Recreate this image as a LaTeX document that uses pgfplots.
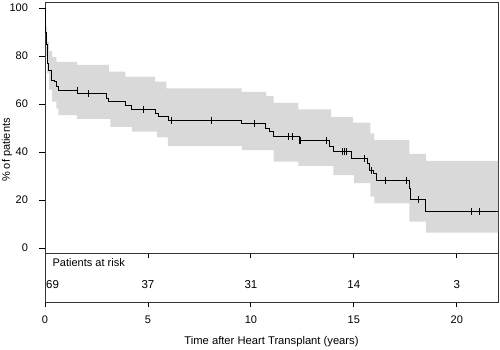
\documentclass[border=0pt]{standalone}
\usepackage{pgfplots}
\pgfplotsset{compat=1.18}
\usepgfplotslibrary{fillbetween}
\usepackage{fontspec}
\setmainfont{Liberation Sans}
\begin{document}
\begin{tikzpicture}
\begin{axis}[
  at={(45pt,97pt)}, anchor=south west, scale only axis,
  width=453pt, height=251pt,
  xmin=0, xmax=22, ymin=-2.08, ymax=102.5,
  ytick={0,20,...,100}, xtick={5,10,15,20}, xticklabels={},
  tick align=outside, xtick pos=bottom, ytick pos=left,
  major tick length=5.5pt,
  axis line style={black!80, line width=0.9pt},
  tick style={black, line width=0.9pt},
  ticklabel style={font=\fontsize{11}{13}\selectfont},
  yticklabel style={xshift=-8pt},
  /pgf/number format/assume math mode=true,
  clip=false,
]
\addplot[name path=upper, const plot, draw=none] coordinates {
(0,97) (0.05,92) (0.1,86) (0.2,82) (0.35,79.5) (0.55,77.6) (1.55,76.3)
(3.1,73.5) (3.9,71.4) (5.35,69.3) (5.9,66.5) (9.55,65.1) (10.75,63.3)
(11.1,60.5) (12.3,57.8) (13.9,54.5) (14.95,52.2) (15.8,47.8) (16.0,45)
(17.7,39.2) (18.5,36.3) (22,36.3)};
\addplot[name path=lower, const plot, draw=none] coordinates {
(0,92) (0.05,80) (0.1,73) (0.2,66) (0.35,61) (0.55,58.2) (0.65,55.4)
(1.55,53.75) (3.17,50.5) (4.22,48.5) (5.44,46.1) (5.97,42.5) (9.56,40.8)
(11.1,36) (12.3,34.2) (14.0,30.4) (15.0,27) (15.8,21.4) (16.0,18.6)
(17.7,11) (18.5,6.4) (22,6.4)};
\addplot[fill=black!15, draw=none] fill between[of=upper and lower];
\addplot[const plot, black, line width=0.9pt] coordinates {
(0,100) (0.01,95) (0.03,90) (0.06,85) (0.1,81) (0.14,77) (0.18,74)
(0.31,70) (0.47,69.3) (0.58,67.2) (0.66,65.5) (1.6,64.2) (3.0,62.4)
(3.1,61.25) (3.9,59.6) (4.22,57.9) (5.35,56.1) (5.5,54.7) (6.0,53.3)
(9.53,51.7) (10.7,49.9) (10.9,48.5) (11.1,46.4) (12.35,44.7) (13.8,42.2)
(14.0,40.1) (14.9,37.4) (15.65,35.3) (15.78,32.2) (15.95,31.1) (16.1,28.3)
(17.68,24.9) (17.77,20.3) (18.48,15.1) (22,15.1)};
\addplot[only marks, mark=|, mark size=3.5pt, mark options={line width=0.9pt, black}] coordinates {
(1.58,65.5) (2.12,64.2) (4.76,57.9) (6.12,53.3) (8.1,53.3) (10.16,51.7)
(11.81,46.4) (12.02,46.4) (12.37,44.7) (12.42,44.7) (13.67,44.7)
(14.43,40.1) (14.56,40.1) (14.65,40.1) (15.53,37.4) (15.83,32.2)
(16.54,28.3) (17.56,28.3) (18.16,20.3) (20.71,15.1) (21.12,15.1)};
\node[rotate=90, font=\fontsize{11}{13}\selectfont] at (rel axis cs:-0.084,0.41) {\% of patients};
\end{axis}
\begin{axis}[
  at={(45pt,48pt)}, anchor=south west, scale only axis,
  width=453pt, height=49pt,
  xmin=0, xmax=22, ymin=0, ymax=1,
  ytick=\empty, xtick={0,5,...,20},
  tick align=outside, xtick pos=bottom,
  major tick length=5.5pt,
  axis line style={black!80, line width=0.9pt},
  tick style={black, line width=0.9pt},
  ticklabel style={font=\fontsize{11}{13}\selectfont},
  xticklabel style={yshift=-5pt},
  /pgf/number format/assume math mode=true,
  xlabel={Time after Heart Transplant (years)},
  xlabel style={at={(rel axis cs:0.5,0)}, anchor=center, yshift=-40pt, font=\fontsize{11.2}{13}\selectfont},
  clip=false,
]
\node[anchor=west, font=\fontsize{11}{13}\selectfont] at (axis cs:0.2,0.8) {Patients at risk};
\node[anchor=west, inner sep=1pt, font=\fontsize{11.5}{13}\selectfont] at (axis cs:0,0.35) {69};
\node[font=\fontsize{11.5}{13}\selectfont] at (axis cs:5,0.35) {37};
\node[font=\fontsize{11.5}{13}\selectfont] at (axis cs:10,0.35) {31};
\node[font=\fontsize{11.5}{13}\selectfont] at (axis cs:15,0.35) {14};
\node[font=\fontsize{11.5}{13}\selectfont] at (axis cs:20,0.35) {3};
\end{axis}
\pgfresetboundingbox
\path[use as bounding box] (0pt,0pt) rectangle (500pt,350pt);
\end{tikzpicture}
\end{document}
